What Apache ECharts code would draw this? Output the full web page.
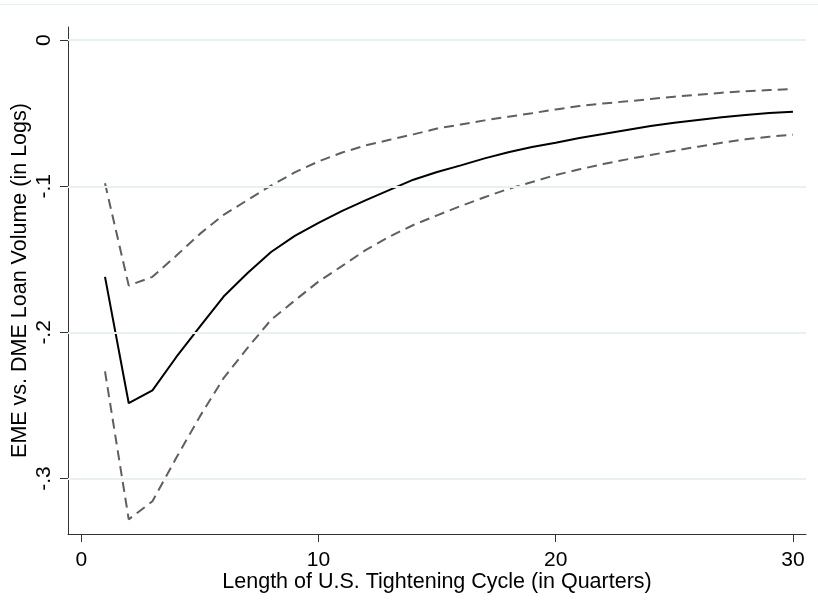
<!DOCTYPE html>
<html>
<head>
<meta charset="utf-8">
<script src="https://cdn.jsdelivr.net/npm/echarts@6/dist/echarts.min.js"></script>
<style>
  html, body { margin: 0; padding: 0; background: #ffffff; }
  #chart { width: 818px; height: 615px; }
</style>
</head>
<body>
<div id="chart"></div>
<script>
// Quarters since the start of the U.S. tightening cycle
const quarters = [1,2,3,4,5,6,7,8,9,10,11,12,13,14,15,16,17,18,19,20,21,22,23,24,25,26,27,28,29,30];

// Point estimate of the EME vs. DME loan volume effect (logs)
const estimate = [-0.162, -0.2485, -0.2397, -0.217, -0.196, -0.1755, -0.1595, -0.145, -0.134, -0.125,
                  -0.1168, -0.1095, -0.1025, -0.0955, -0.0902, -0.0857, -0.0809, -0.0767, -0.0731, -0.0702,
                  -0.067, -0.0643, -0.0615, -0.0588, -0.0566, -0.0547, -0.0528, -0.0512, -0.0499, -0.049];

// Upper and lower confidence bounds
const upperBound = [-0.098, -0.168, -0.162, -0.1476, -0.1326, -0.1196, -0.1095, -0.0995, -0.0905, -0.083,
                    -0.0769, -0.072, -0.0682, -0.0645, -0.0605, -0.0577, -0.0549, -0.0524, -0.05, -0.0474,
                    -0.0451, -0.0433, -0.0419, -0.0403, -0.0387, -0.0374, -0.036, -0.0349, -0.0342, -0.0335];
const lowerBound = [-0.2267, -0.328, -0.3156, -0.286, -0.2575, -0.2313, -0.2108, -0.1914, -0.1782, -0.1652,
                    -0.1545, -0.1435, -0.1344, -0.1265, -0.1199, -0.1135, -0.1075, -0.1018, -0.0971, -0.0923,
                    -0.0884, -0.0848, -0.0816, -0.0786, -0.0757, -0.0729, -0.0702, -0.0679, -0.0661, -0.0647];

// Axis ticks and their labels
const xTicks = [0, 10, 20, 30];
const yTicks = [-0.3, -0.2, -0.1, 0];
const yTickLabels = ['-.3', '-.2', '-.1', '0'];

const FONT = '"Liberation Sans", Arial, Helvetica, sans-serif';

function pairs(ys) {
  return quarters.map((q, i) => [q, ys[i]]);
}

function yLabel(v) {
  for (let i = 0; i < yTicks.length; i++) {
    if (Math.abs(yTicks[i] - v) < 1e-9) return yTickLabels[i];
  }
  return '';
}

const chart = echarts.init(document.getElementById('chart'), null, { renderer: 'canvas' });

const dashStyle = { color: '#5f5f5f', width: 2, type: [10, 6] };

chart.setOption({
  animation: false,
  backgroundColor: '#ffffff',
  grid: { left: 68, right: 12, top: 27, bottom: 81, containLabel: false, outerBoundsMode: 'none' },
  graphic: [{
    type: 'line',
    shape: { x1: 0, y1: 4.5, x2: 818, y2: 4.5 },
    style: { stroke: '#e6eef1', lineWidth: 1 },
    silent: true
  }],
  xAxis: {
    type: 'value',
    min: -0.56,
    max: 30.55,
    name: 'Length of U.S. Tightening Cycle (in Quarters)',
    nameLocation: 'middle',
    nameGap: 37,
    nameMoveOverlap: false,
    nameTextStyle: { fontFamily: FONT, fontSize: 21.5, color: '#000000' },
    axisLine: { show: true, onZero: false, lineStyle: { color: '#333333', width: 1 } },
    axisTick: { show: true, length: 8, customValues: xTicks, lineStyle: { color: '#333333' } },
    axisLabel: { show: true, customValues: xTicks, margin: 16, fontFamily: FONT, fontSize: 21, color: '#000000' },
    splitLine: { show: false }
  },
  yAxis: {
    type: 'value',
    min: -0.338,
    max: 0.009,
    name: 'EME vs. DME Loan Volume (in Logs)',
    nameLocation: 'middle',
    nameGap: 37,
    nameRotate: 90,
    nameMoveOverlap: false,
    nameTextStyle: { fontFamily: FONT, fontSize: 21.5, color: '#000000' },
    axisLine: { show: true, onZero: false, lineStyle: { color: '#333333', width: 1 } },
    axisTick: { show: true, length: 8, customValues: yTicks, lineStyle: { color: '#333333' } },
    axisLabel: {
      show: true, customValues: yTicks, rotate: 90, margin: 13,
      fontFamily: FONT, fontSize: 21, color: '#000000',
      formatter: yLabel
    },
    splitLine: { show: false }
  },
  series: [
    {
      // horizontal reference lines at each y tick
      type: 'line',
      data: [],
      z: 1,
      silent: true,
      markLine: {
        silent: true,
        symbol: ['none', 'none'],
        label: { show: false },
        lineStyle: { color: '#e9f0f2', width: 2, type: 'solid' },
        data: yTicks.map(v => ({ yAxis: v }))
      }
    },
    {
      type: 'line',
      data: pairs(upperBound),
      showSymbol: false,
      z: 3,
      lineStyle: dashStyle
    },
    {
      type: 'line',
      data: pairs(lowerBound),
      showSymbol: false,
      z: 3,
      lineStyle: dashStyle
    },
    {
      type: 'line',
      data: pairs(estimate),
      showSymbol: false,
      z: 4,
      lineStyle: { color: '#000000', width: 2, type: 'solid' }
    }
  ]
});
</script>
</body>
</html>
